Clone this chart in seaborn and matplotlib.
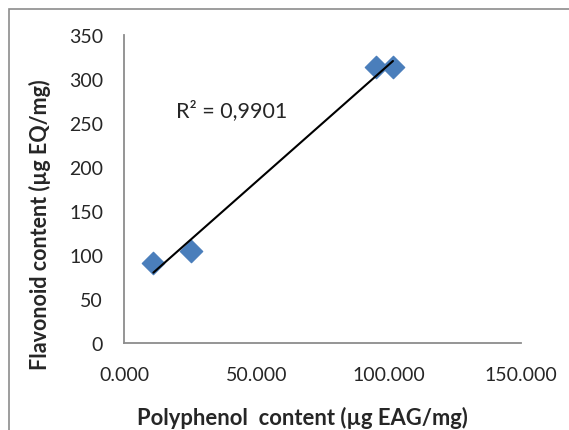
import numpy as np
import matplotlib
matplotlib.use("Agg")
import matplotlib.pyplot as plt
import seaborn as sns
from matplotlib.ticker import FormatStrFormatter
from matplotlib.patches import Rectangle

# polyphenol vs flavonoid content
polyphenol = [11.1, 25.4, 95.4, 101.7]
flavonoid = [91.0, 104.3, 313.6, 312.9]
r2_label = "R² = 0,9901"
x_ticks = [0, 50, 100, 150]
y_ticks = [0, 50, 100, 150, 200, 250, 300, 350]

sns.set_style("white")
plt.rcParams['font.family'] = ['Lato', 'DejaVu Sans']

W, H = 569, 431
fig = plt.figure(figsize=(W / 100, H / 100), dpi=100)
ax = fig.add_axes([124 / W, 1 - 344.3 / H, (520.7 - 124) / W, (344.3 - 35.7) / H])

# chart area border (runs off the right/bottom edge like the source)
fig.patches.append(Rectangle((8.5 / W, -0.1), 1.2, 1 - 9.5 / H + 0.1,
                             transform=fig.transFigure, fill=False,
                             edgecolor="#8c8c8c", lw=1.2))

sns.scatterplot(x=polyphenol, y=flavonoid, ax=ax, marker="D", s=130,
                color="#4a7ebb", edgecolor="#4a7ebb", zorder=3)

# linear trendline
coef = np.polyfit(polyphenol, flavonoid, 1)
xs = np.array([min(polyphenol), max(polyphenol)])
ax.plot(xs, np.polyval(coef, xs), color="black", lw=1.5, zorder=4)

ax.text(19.8, 264.6, r2_label, fontsize=15.5, va="center", ha="left")

ax.set_xlim(0, 150)
ax.set_ylim(0, 350)
ax.set_xticks(x_ticks)
ax.set_yticks(y_ticks)
ax.xaxis.set_major_formatter(FormatStrFormatter("%.3f"))

for side in ["top", "right"]:
    ax.spines[side].set_visible(False)
for side in ["left", "bottom"]:
    ax.spines[side].set_color("#8c8c8c")
    ax.spines[side].set_linewidth(1.3)
ax.tick_params(axis="both", which="major", direction="out", length=5,
               width=1.3, color="#8c8c8c", labelsize=14)
ax.tick_params(axis="x", pad=11)
ax.tick_params(axis="y", pad=10)

ax.set_xlabel("Polyphenol  content (µg EAG/mg)", fontsize=15.8, fontweight="bold")
ax.set_ylabel("Flavonoid content (µg EQ/mg)", fontsize=15.5, fontweight="bold")
ax.xaxis.set_label_coords(302 / W, 1 - 418 / H, transform=fig.transFigure)
ax.yaxis.set_label_coords(40 / W, 1 - 225 / H, transform=fig.transFigure)
ax.xaxis.label.set_va("center")
ax.yaxis.label.set_va("center")

fig.savefig("out.png", dpi=100)
